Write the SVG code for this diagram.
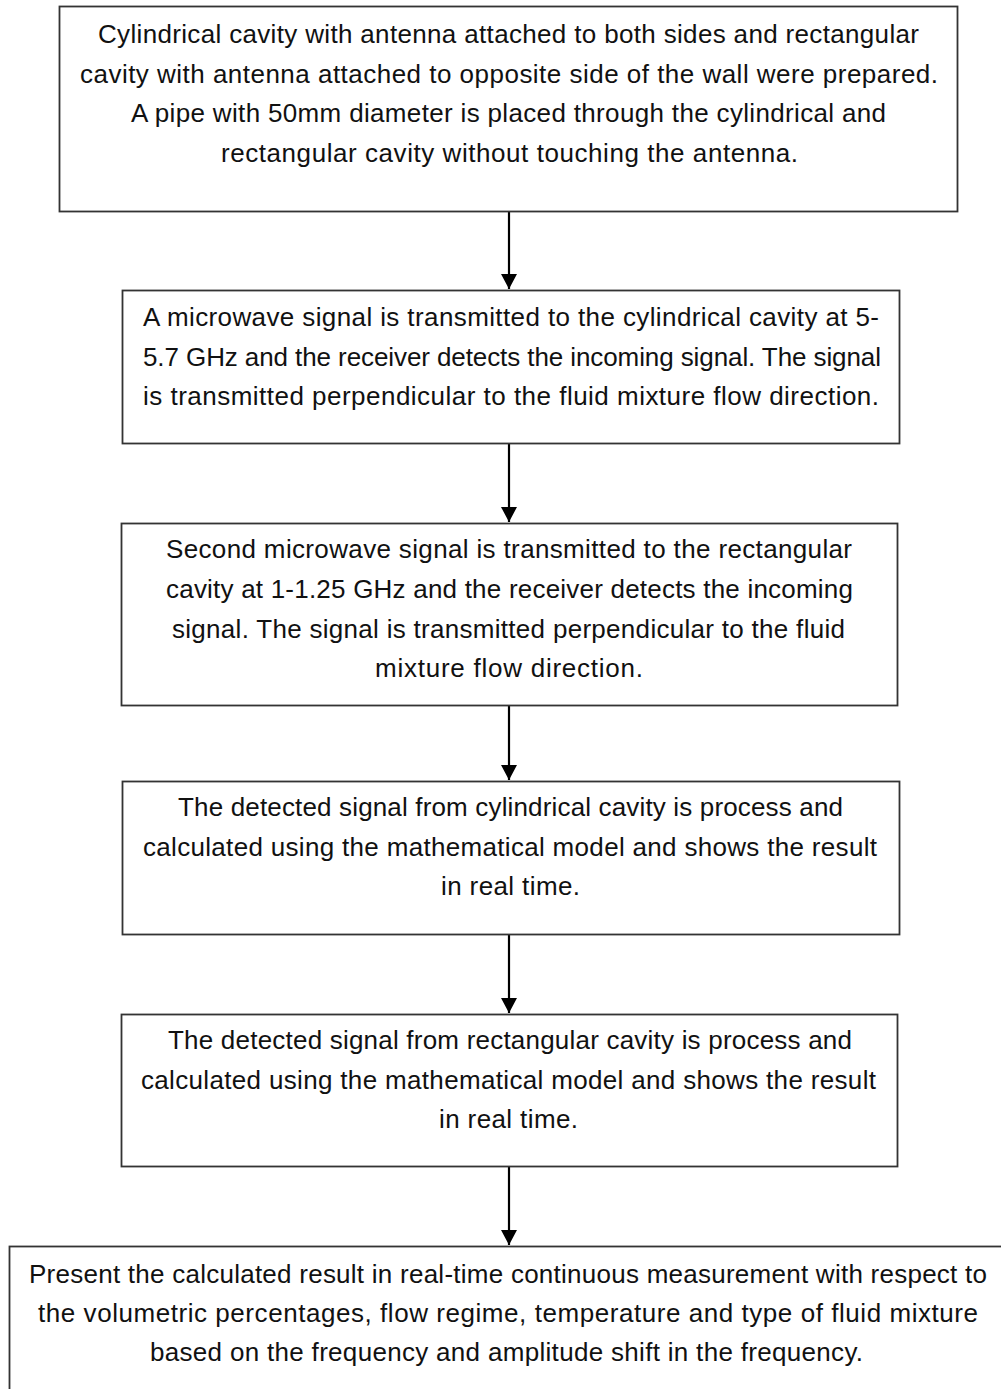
<svg xmlns="http://www.w3.org/2000/svg" width="1001" height="1389" viewBox="0 0 1001 1389">
<style>
.box{fill:#fff;stroke:#333;stroke-width:1.8}
.t{font-family:"Liberation Sans",Arial,sans-serif;font-size:26px;fill:#111}
.conn{stroke:#000;stroke-width:2.2;fill:none;marker-end:url(#ah)}
</style>
<defs>
<marker id="ah" markerUnits="userSpaceOnUse" markerWidth="16" markerHeight="16" refX="15" refY="8" orient="auto">
<path d="M0,0 L15,8 L0,16 Z" fill="#000"/>
</marker>
</defs>
<rect width="1001" height="1389" fill="#fff"/>
<g id="connectors">
<line class="conn" x1="509" y1="212" x2="509" y2="289"/>
<line class="conn" x1="509" y1="444" x2="509" y2="522"/>
<line class="conn" x1="509" y1="706" x2="509" y2="780"/>
<line class="conn" x1="509" y1="935" x2="509" y2="1013"/>
<line class="conn" x1="509" y1="1167" x2="509" y2="1245"/>
</g>
<g id="node1">
<rect class="box" x="59.5" y="6.5" width="898" height="205"/>
<text class="t" lengthAdjust="spacingAndGlyphs"><tspan x="98" y="43" textLength="821">Cylindrical cavity with antenna attached to both sides and rectangular</tspan></text>
<text class="t" lengthAdjust="spacingAndGlyphs"><tspan x="80" y="83" textLength="858">cavity with antenna attached to opposite side of the wall were prepared.</tspan></text>
<text class="t" lengthAdjust="spacingAndGlyphs"><tspan x="131" y="122" textLength="755">A pipe with 50mm diameter is placed through the cylindrical and</tspan></text>
<text class="t" lengthAdjust="spacingAndGlyphs"><tspan x="221" y="162" textLength="577">rectangular cavity without touching the antenna.</tspan></text>
</g>
<g id="node2">
<rect class="box" x="122.5" y="290.5" width="777" height="153"/>
<text class="t" lengthAdjust="spacingAndGlyphs"><tspan x="143" y="326" textLength="736">A microwave signal is transmitted to the cylindrical cavity at 5-</tspan></text>
<text class="t" lengthAdjust="spacingAndGlyphs"><tspan x="143" y="366" textLength="738">5.7 GHz and the receiver detects the incoming signal. The signal</tspan></text>
<text class="t" lengthAdjust="spacingAndGlyphs"><tspan x="143" y="405" textLength="736">is transmitted perpendicular to the fluid mixture flow direction.</tspan></text>
</g>
<g id="node3">
<rect class="box" x="121.5" y="523.5" width="776" height="182"/>
<text class="t" lengthAdjust="spacingAndGlyphs"><tspan x="166" y="558" textLength="686">Second microwave signal is transmitted to the rectangular</tspan></text>
<text class="t" lengthAdjust="spacingAndGlyphs"><tspan x="166" y="598" textLength="687">cavity at 1-1.25 GHz and the receiver detects the incoming</tspan></text>
<text class="t" lengthAdjust="spacingAndGlyphs"><tspan x="172" y="638" textLength="673">signal. The signal is transmitted perpendicular to the fluid</tspan></text>
<text class="t" lengthAdjust="spacingAndGlyphs"><tspan x="375" y="677" textLength="268">mixture flow direction.</tspan></text>
</g>
<g id="node4">
<rect class="box" x="122.5" y="781.5" width="777" height="153"/>
<text class="t" lengthAdjust="spacingAndGlyphs"><tspan x="178" y="816" textLength="665">The detected signal from cylindrical cavity is process and</tspan></text>
<text class="t" lengthAdjust="spacingAndGlyphs"><tspan x="143" y="856" textLength="734">calculated using the mathematical model and shows the result</tspan></text>
<text class="t" lengthAdjust="spacingAndGlyphs"><tspan x="441" y="895" textLength="139">in real time.</tspan></text>
</g>
<g id="node5">
<rect class="box" x="121.5" y="1014.5" width="776" height="152"/>
<text class="t" lengthAdjust="spacingAndGlyphs"><tspan x="168" y="1049" textLength="684">The detected signal from rectangular cavity is process and</tspan></text>
<text class="t" lengthAdjust="spacingAndGlyphs"><tspan x="141" y="1089" textLength="735">calculated using the mathematical model and shows the result</tspan></text>
<text class="t" lengthAdjust="spacingAndGlyphs"><tspan x="439" y="1128" textLength="139">in real time.</tspan></text>
</g>
<g id="node6">
<rect class="box" x="9.5" y="1246.5" width="1000" height="160"/>
<text class="t" lengthAdjust="spacingAndGlyphs"><tspan x="29" y="1283" textLength="958">Present the calculated result in real-time continuous measurement with respect to</tspan></text>
<text class="t" lengthAdjust="spacingAndGlyphs"><tspan x="38" y="1322" textLength="940">the volumetric percentages, flow regime, temperature and type of fluid mixture</tspan></text>
<text class="t" lengthAdjust="spacingAndGlyphs"><tspan x="150" y="1361" textLength="713">based on the frequency and amplitude shift in the frequency.</tspan></text>
</g>
</svg>
